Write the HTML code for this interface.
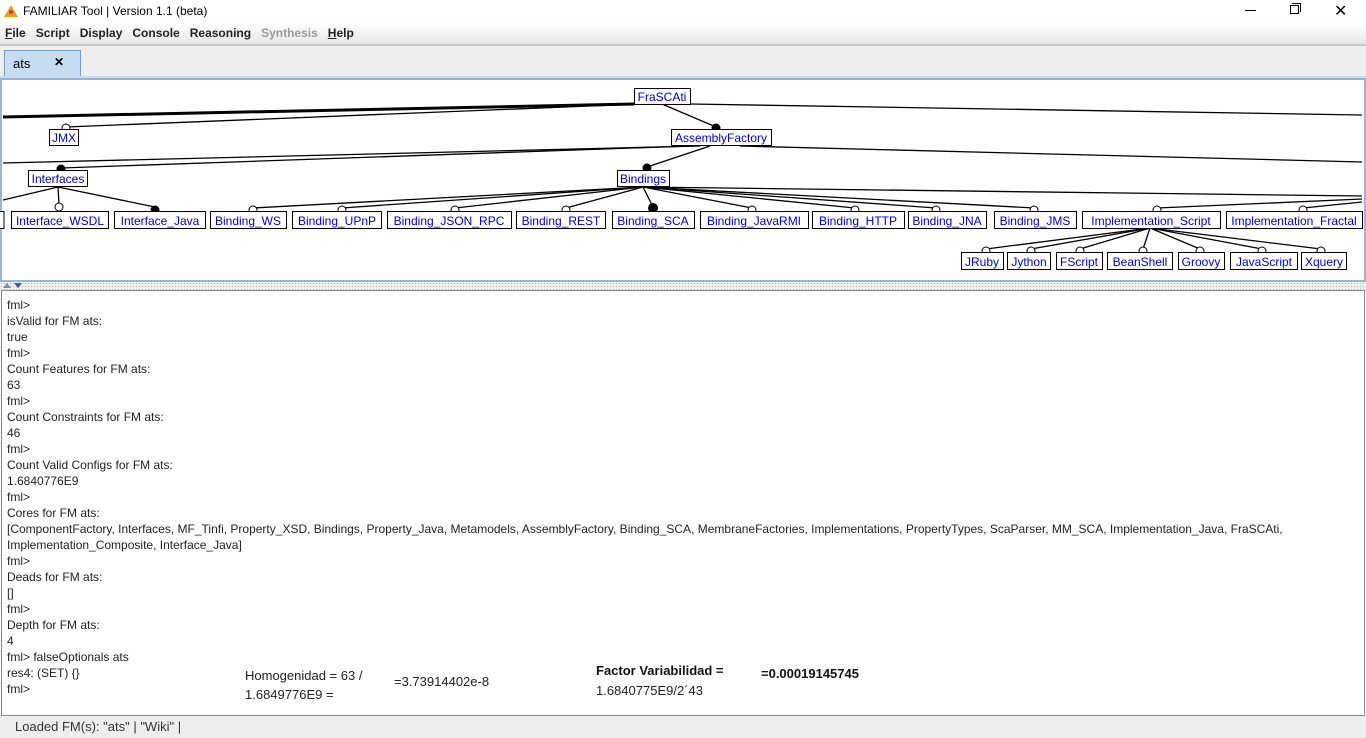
<!DOCTYPE html>
<html><head><meta charset="utf-8"><style>
*{margin:0;padding:0;box-sizing:border-box}
body{width:1366px;height:738px;overflow:hidden;background:#fff;font-family:"Liberation Sans",sans-serif;position:relative}
.a{position:absolute;white-space:nowrap}
.menu span{margin-right:0}
.con{font-size:12px;color:#222;line-height:16px}
</style></head><body>
<!-- title bar -->
<div class="a" style="left:0;top:0;width:1366px;height:22px;background:#fff"></div>
<svg class="a" style="left:4px;top:5px" width="14" height="12"><polygon points="7,0 14,12 0,12" fill="#e8a020"/><circle cx="7" cy="7" r="2" fill="#c33"/></svg>
<div class="a" style="left:23px;top:4px;font-size:12px;color:#000">FAMILIAR Tool | Version 1.1 (beta)</div>
<div class="a" style="left:1245px;top:10px;width:11px;height:1px;background:#000"></div>
<div class="a" style="left:1290px;top:5px;width:9px;height:9px;border:1px solid #000;background:#fff"></div>
<div class="a" style="left:1292px;top:3px;width:9px;height:9px;border-top:1px solid #000;border-right:1px solid #000"></div>
<div class="a" style="left:1334px;top:1px;font-size:16px;color:#000">✕</div>
<!-- menu -->
<div class="a" style="left:0;top:22px;width:1366px;height:23px;background:linear-gradient(#fff,#e6e6e6)"></div>
<div class="a" style="left:0;top:44px;width:1366px;height:2px;background:#c8c8c8"></div>
<div class="a" style="left:5px;top:26px;font-size:12px;font-weight:bold;color:#222;word-spacing:0">
<span><u>F</u>ile</span>&nbsp;&nbsp;&nbsp;Script&nbsp;&nbsp;&nbsp;Display&nbsp;&nbsp;&nbsp;Console&nbsp;&nbsp;&nbsp;Reasoning&nbsp;&nbsp;&nbsp;<span style="color:#999">Synthesis</span>&nbsp;&nbsp;&nbsp;<u>H</u>elp</div>
<!-- tab area -->
<div class="a" style="left:0;top:46px;width:1366px;height:34px;background:#eeeeee"></div>
<div class="a" style="left:4px;top:50px;width:77px;height:28px;background:#c6dcf1;border:1px solid #7a9cc8;border-bottom:none"></div>
<div class="a" style="left:13px;top:56px;font-size:13px;color:#000">ats</div>
<div class="a" style="left:54px;top:55px;font-size:12px;font-weight:bold;color:#000">✕</div>
<div class="a" style="left:0;top:76px;width:1366px;height:4px;background:#c6dcf1"></div>
<!-- diagram panel -->
<div class="a" style="left:0;top:78px;width:1366px;height:204px;border:2px solid #9ab4d8;background:#fff"></div>
<svg class="a" style="left:0;top:0" width="1366" height="290" font-family="Liberation Sans,sans-serif" font-size="12">
<g stroke="#000" stroke-width="1.3" fill="none">
<path d="M634,104 L3,117" stroke-width="3"/>
<path d="M640,104 L66,127"/>
<path d="M690,104 L1362,115"/>
<path d="M662,104 L716,127"/>
<path d="M700,146 L3,163"/>
<path d="M690,146 L61,168"/>
<path d="M710,146 L647,167"/>
<path d="M740,146 L1362,162"/>
<path d="M58,187 L3,200"/>
<path d="M58,187 L59,205"/>
<path d="M58,187 L155,207"/>
<path d="M643,187 L253,208"/>
<path d="M643,187 L342,208"/>
<path d="M643,187 L455,208"/>
<path d="M643,187 L566,208"/>
<path d="M643,187 L653,207"/>
<path d="M643,187 L752,208"/>
<path d="M643,187 L855,208"/>
<path d="M643,187 L936,208"/>
<path d="M643,187 L1034,208"/>
<path d="M643,187 L1362,196"/>
<path d="M1362,199 L1157,208"/>
<path d="M1362,202 L1303,208"/>
<path d="M1150,228 L986,249"/>
<path d="M1150,228 L1031,249"/>
<path d="M1150,228 L1080,249"/>
<path d="M1150,228 L1143,249"/>
<path d="M1150,228 L1200,249"/>
<path d="M1150,228 L1262,249"/>
<path d="M1150,228 L1321,249"/>
</g>
<g stroke="#000" fill="#fff">
<circle cx="66" cy="128" r="4"/><circle cx="59" cy="207" r="4"/><circle cx="253" cy="210" r="4"/><circle cx="342" cy="210" r="4"/><circle cx="455" cy="210" r="4"/><circle cx="566" cy="210" r="4"/><circle cx="752" cy="210" r="4"/><circle cx="855" cy="210" r="4"/><circle cx="936" cy="210" r="4"/><circle cx="1034" cy="210" r="4"/><circle cx="1157" cy="210" r="4"/><circle cx="1303" cy="210" r="4"/>
<circle cx="986" cy="251" r="4"/><circle cx="1031" cy="251" r="4"/><circle cx="1080" cy="251" r="4"/><circle cx="1143" cy="251" r="4"/><circle cx="1200" cy="251" r="4"/><circle cx="1262" cy="251" r="4"/><circle cx="1321" cy="251" r="4"/>
</g>
<g fill="#000"><circle cx="716" cy="128" r="4.5"/><circle cx="61" cy="169" r="4.5"/><circle cx="647" cy="168" r="4.5"/><circle cx="155" cy="210" r="4.5"/><circle cx="653" cy="208" r="5"/></g>
<g stroke="#000" fill="#fff">
<rect x="634.5" y="88.5" width="56" height="16"/><rect x="49.5" y="129.5" width="29" height="16"/><rect x="671.5" y="129.5" width="100" height="16"/>
<rect x="28.5" y="170.5" width="59" height="16"/><rect x="617.5" y="170.5" width="52" height="16"/>
<rect x="-3" y="211.5" width="7" height="17"/>
<rect x="11.5" y="211.5" width="97" height="17"/><rect x="114.5" y="211.5" width="91" height="17"/><rect x="210.5" y="211.5" width="76" height="17"/><rect x="292.5" y="211.5" width="89" height="17"/><rect x="387.5" y="211.5" width="124" height="17"/><rect x="516.5" y="211.5" width="89" height="17"/><rect x="612.5" y="211.5" width="82" height="17"/><rect x="700.5" y="211.5" width="108" height="17"/><rect x="812.5" y="211.5" width="92" height="17"/><rect x="908.5" y="211.5" width="78" height="17"/><rect x="994.5" y="211.5" width="82" height="17"/><rect x="1082.5" y="211.5" width="138" height="17"/><rect x="1226.5" y="211.5" width="136" height="17"/>
<rect x="961.5" y="252.5" width="42" height="17"/><rect x="1007.5" y="252.5" width="43" height="17"/><rect x="1056.5" y="252.5" width="46" height="17"/><rect x="1107.5" y="252.5" width="65" height="17"/><rect x="1178.5" y="252.5" width="46" height="17"/><rect x="1230.5" y="252.5" width="67" height="17"/><rect x="1301.5" y="252.5" width="45" height="17"/>
</g>
<g fill="#00c" text-anchor="middle">
<text x="662" y="101">FraSCAti</text><text x="64" y="142">JMX</text><text x="721" y="142">AssemblyFactory</text>
<text x="58" y="183">Interfaces</text><text x="643" y="183">Bindings</text>
<text x="60" y="225">Interface_WSDL</text><text x="160" y="225">Interface_Java</text><text x="248" y="225">Binding_WS</text><text x="337" y="225">Binding_UPnP</text><text x="449" y="225">Binding_JSON_RPC</text><text x="561" y="225">Binding_REST</text><text x="653" y="225">Binding_SCA</text><text x="754" y="225">Binding_JavaRMI</text><text x="858" y="225">Binding_HTTP</text><text x="947" y="225">Binding_JNA</text><text x="1035" y="225">Binding_JMS</text><text x="1151" y="225">Implementation_Script</text><text x="1294" y="225">Implementation_Fractal</text>
<text x="982" y="266">JRuby</text><text x="1029" y="266">Jython</text><text x="1079" y="266">FScript</text><text x="1140" y="266">BeanShell</text><text x="1201" y="266">Groovy</text><text x="1264" y="266">JavaScript</text><text x="1324" y="266">Xquery</text>
</g>
</svg>
<!-- splitter -->
<div class="a" style="left:0;top:282px;width:1366px;height:8px;background:#eee;background-image:radial-gradient(#bbb 0.6px,transparent 0.7px);background-size:3px 3px"></div>
<svg class="a" style="left:3px;top:282px" width="22" height="7"><polygon points="0,6 4,1 8,6" fill="#6b8cc0"/><polygon points="11,1 19,1 15,6" fill="#3a5e9e"/></svg>
<!-- console -->
<div class="a" style="left:1px;top:290px;width:1364px;height:426px;border:1px solid #888;background:#fff"></div>
<div class="a con" style="left:7px;top:297px">
fml&gt;<br>isValid for FM ats:<br>true<br>fml&gt;<br>Count Features for FM ats:<br>63<br>fml&gt;<br>Count Constraints for FM ats:<br>46<br>fml&gt;<br>Count Valid Configs for FM ats:<br>1.6840776E9<br>fml&gt;<br>Cores for FM ats:<br>[ComponentFactory, Interfaces, MF_Tinfi, Property_XSD, Bindings, Property_Java, Metamodels, AssemblyFactory, Binding_SCA, MembraneFactories, Implementations, PropertyTypes, ScaParser, MM_SCA, Implementation_Java, FraSCAti,<br>Implementation_Composite, Interface_Java]<br>fml&gt;<br>Deads for FM ats:<br>[]<br>fml&gt;<br>Depth for FM ats:<br>4<br>fml&gt; falseOptionals ats<br>res4: (SET) {}<br>fml&gt;</div>
<div class="a" style="left:245px;top:666px;font-size:13px;line-height:19px;color:#222">Homogenidad = 63 /<br>1.6849776E9 =</div>
<div class="a" style="left:394px;top:674px;font-size:13px;color:#222">=3.73914402e-8</div>
<div class="a" style="left:596px;top:663px;font-size:13px;font-weight:bold;color:#111">Factor Variabilidad =</div>
<div class="a" style="left:596px;top:683px;font-size:13px;color:#222">1.6840775E9/2´43</div>
<div class="a" style="left:761px;top:666px;font-size:13px;font-weight:bold;color:#111">=0.00019145745</div>
<!-- status -->
<div class="a" style="left:0;top:716px;width:1366px;height:22px;background:#eee"></div>
<div class="a" style="left:15px;top:719px;font-size:13px;color:#333">Loaded FM(s): "ats" | "Wiki" |</div>
</body></html>
